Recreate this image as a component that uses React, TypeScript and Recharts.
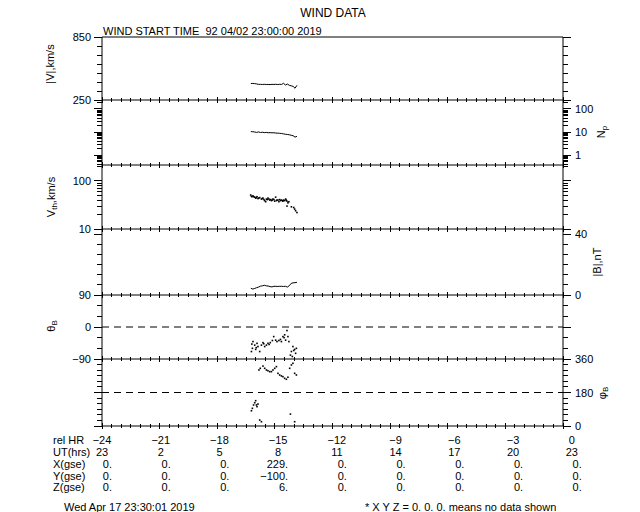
import React from "react";
import { ComposedChart, Line, Scatter, XAxis, YAxis, ReferenceLine } from "recharts";

// bottom table
const relHours = [-24, -21, -18, -15, -12, -9, -6, -3, 0];
const utHours = ["23", "2", "5", "8", "11", "14", "17", "20", "23"];
const xGse = ["0.", "0.", "0.", "229.", "0.", "0.", "0.", "0.", "0."];
const yGse = ["0.", "0.", "0.", "\u2212100.", "0.", "0.", "0.", "0.", "0."];
const zGse = ["0.", "0.", "0.", "6.", "0.", "0.", "0.", "0.", "0."];

// line series, rel hours
const sampleTime = [
  -16.25, -16.15, -16.05, -15.95, -15.85, -15.75, -15.65, -15.55, -15.45, -15.35, -15.25, -15.15, -15.05,
  -14.95, -14.85, -14.75, -14.65, -14.55, -14.45, -14.35, -14.25, -14.15, -14.05, -13.95, -13.85,
];
const speed = [407, 408, 406, 403, 399, 399, 398, 399, 398, 398, 397, 399, 398, 400, 397, 400, 398, 409, 393, 402, 390, 385, 380, 362, 390];
const density = [10.4, 10.3, 10.0, 9.6, 10.1, 9.5, 9.8, 9.4, 9.6, 9.3, 9.4, 9.2, 9.3, 9.0, 8.9, 8.8, 8.6, 8.3, 8.0, 7.8, 7.6, 7.2, 6.9, 6.0, 6.5];
const bMag = [4.4, 3.9, 4.3, 4.8, 5.2, 5.8, 6.0, 6.4, 6.0, 5.9, 5.5, 5.3, 5.7, 5.7, 5.6, 5.7, 5.7, 5.6, 5.7, 5.2, 6.1, 7.6, 8.0, 8.1, 8.3];

// thermal speed points
const vthTime = [
  -16.26, -16.22, -16.19, -16.14, -16.1, -16.05, -16.0, -15.97, -15.93, -15.88, -15.84, -15.79, -15.7,
  -15.66, -15.62, -15.57, -15.53, -15.48, -15.44, -15.4, -15.36, -15.31, -15.27, -15.22, -15.18, -15.14,
  -15.1, -15.05, -15.01, -14.96, -14.92, -14.89, -14.84, -14.79, -14.75, -14.71, -14.66, -14.61, -14.58,
  -14.54, -14.49, -14.44, -14.41, -14.37, -14.37, -14.32, -14.27, -14.14, -14.02, -13.97, -13.92, -13.85,
];
const vthValue = [
  51, 48, 47, 49, 47, 46, 44, 45, 47, 43, 44, 45, 42, 43, 44, 41, 39, 37, 42, 41, 44, 42, 40, 41, 39, 40,
  42, 41, 38, 46, 39, 40, 40, 37, 41, 39, 40, 39, 38, 40, 39, 42, 40, 38, 30, 35, 37, 29, 28, 26, 24, 22,
];

// field direction points
const thetaTime = [
  -16.22, -16.2, -16.17, -16.14, -16.05, -16.0, -15.97, -15.93, -15.88, -15.79, -15.7, -15.62, -15.58, -15.53,
  -15.44, -15.36, -15.3, -15.24, -15.13, -15.06, -14.96, -14.89, -14.79, -14.71, -14.66, -14.58, -14.52, -14.49,
  -14.44, -14.37, -14.32, -14.27, -14.19, -14.14, -14.09, -14.06, -14.02, -13.97, -13.92, -13.88,
];
const thetaValue = [
  -69, -48, -60, -41, -51, -63, -58, -46, -55, -69, -51, -44, -47, -55, -51, -46, -49, -44, -38, -27, -37, -41,
  -38, -35, -41, -27, -30, -22, -37, -10, -27, -41, -79, -69, -83, -55, -66, -63, -74, -60,
];
const phiTime = [
  -16.22, -16.17, -16.11, -16.05, -16.0, -15.96, -15.93, -15.88, -15.83, -15.79, -15.76, -15.7, -15.62, -15.53,
  -15.44, -15.36, -15.27, -15.18, -15.1, -15.01, -14.92, -14.84, -14.75, -14.66, -14.58, -14.49, -14.4, -14.32,
  -14.23, -14.19, -14.14, -14.06, -13.97, -13.97, -13.88,
];
const phiValue = [
  82, 95, 113, 125, 136, 113, 104, 118, 301, 32, 310, 23, 322, 310, 301, 297, 292, 292, 301, 310, 319, 283,
  274, 269, 265, 256, 251, 262, 310, 64, 328, 337, 283, 23, 274,
];

const FONT = "'Liberation Sans', Arial, sans-serif";
const W = 640;
const AXIS_L = 102;
const AXIS_R = 77;
const edges = [37, 100, 165, 229, 295, 359, 426];

const xTicks = Array.from({ length: 49 }, (_, i) => -24 + i * 0.5);

const pairs = (t: number[], v: number[]) => t.map((x, i) => ({ t: x, v: v[i] }));
const speedData = pairs(sampleTime, speed);
const densityData = pairs(sampleTime, density);
const bData = pairs(sampleTime, bMag);
const vthData = pairs(vthTime, vthValue);
const thetaData = pairs(thetaTime, thetaValue);
const phiData = pairs(phiTime, phiValue);

const fmtNum = (v: number) => (v < 0 ? "\u2212" + Math.abs(v) : String(v));
const near = (list: number[], v: number) => list.some((m) => Math.abs(m - v) < 1e-6);

const makeXTick = (table: boolean) => (props: any) => {
  const { x, y, payload } = props;
  const v = payload.value as number;
  const idx = relHours.indexOf(v);
  const len = idx >= 0 ? 3 : 2;
  const cx = x + idx * 1.1;
  return (
    <g>
      <line x1={x} x2={x} y1={y - len} y2={y + len} stroke="#000" shapeRendering="crispEdges" />
      {table && idx >= 0 && (
        <g fontSize={11} fontFamily={FONT} fill="#000">
          <text x={cx} y={y + 18} textAnchor="middle">{fmtNum(v)}</text>
          <text x={cx} y={y + 30} textAnchor="middle">{utHours[idx]}</text>
          <text x={cx + 10} y={y + 42} textAnchor="end">{xGse[idx]}</text>
          <text x={cx + 10} y={y + 54} textAnchor="end">{yGse[idx]}</text>
          <text x={cx + 10} y={y + 65} textAnchor="end">{zGse[idx]}</text>
        </g>
      )}
    </g>
  );
};

const makeYTick = (side: "left" | "right", majors: number[], labels: number[]) => (props: any) => {
  const { x, y, payload } = props;
  const v = payload.value as number;
  const len = near(majors, v) ? 8 : 5;
  const dir = side === "left" ? -1 : 1;
  return (
    <g>
      <line x1={x} x2={x + dir * len} y1={y} y2={y} stroke="#000" shapeRendering="crispEdges" />
      {near(labels, v) && (
        <text
          x={side === "left" ? x - 11 : x + 12}
          y={y + 4}
          textAnchor={side === "left" ? "end" : "start"}
          fontSize={11}
          fontFamily={FONT}
          fill="#000"
        >
          {fmtNum(v)}
        </text>
      )}
    </g>
  );
};

const dotShape = (p: any) => <rect x={p.cx - 0.8} y={p.cy - 0.8} width={1.6} height={1.6} fill="#000" />;

type PanelCfg = {
  domain: [number, number];
  log?: boolean;
  ticks: number[];
  majors: number[];
  leftLabels: number[];
  rightLabels: number[];
};

const logTicks = (lo: number, hi: number) => {
  const out: number[] = [];
  for (let d = lo; d <= hi; d++) {
    for (let m = 1; m <= 9; m++) out.push(+(m * Math.pow(10, d)).toPrecision(3));
  }
  return out;
};

const panels: PanelCfg[] = [
  { domain: [250, 850], ticks: Array.from({ length: 8 }, (_, i) => 250 + (i * 600) / 7), majors: [250, 850], leftLabels: [250, 850], rightLabels: [] },
  { domain: [0.37, 245], log: true, ticks: logTicks(-1, 2).filter((v) => v >= 0.4 && v <= 200), majors: [1, 10, 100], leftLabels: [], rightLabels: [1, 10, 100] },
  { domain: [10, 215], log: true, ticks: logTicks(1, 2).filter((v) => v <= 200), majors: [10, 100], leftLabels: [10, 100], rightLabels: [] },
  { domain: [0, 43.3], ticks: Array.from({ length: 7 }, (_, i) => (i * 40) / 6), majors: [0, 40], leftLabels: [], rightLabels: [0, 40] },
  { domain: [-90, 90], ticks: [-90, -60, -30, 0, 30, 60, 90], majors: [-90, 0, 90], leftLabels: [-90, 0, 90], rightLabels: [] },
  { domain: [0, 360], ticks: Array.from({ length: 13 }, (_, i) => i * 30), majors: [0, 180, 360], leftLabels: [], rightLabels: [0, 180, 360] },
];

const renderPanel = (i: number, items: React.ReactNode[], table = false) => {
  const cfg = panels[i];
  const top = edges[i];
  const padTop = 12;
  const padBottom = table ? 82 : 12;
  const h = edges[i + 1] - top + padTop + padBottom;
  return (
    <div key={i} style={{ position: "absolute", left: 0, top: top - padTop }}>
      <ComposedChart width={W} height={h} margin={{ top: padTop, right: 0, bottom: padBottom - 1, left: 0 }}>
        <XAxis
          dataKey="t"
          type="number"
          domain={[-24, 0]}
          allowDataOverflow
          ticks={xTicks}
          interval={0}
          height={1}
          tickSize={0}
          tickMargin={0}
          tickLine={false}
          axisLine={{ stroke: "#000" }}
          tick={makeXTick(table)}
        />
        {(["l", "r"] as const).map((id) => (
          <YAxis
            key={id}
            yAxisId={id}
            orientation={id === "l" ? "left" : "right"}
            width={id === "l" ? AXIS_L : AXIS_R}
            dataKey="v"
            type="number"
            scale={cfg.log ? "log" : "linear"}
            domain={cfg.domain}
            allowDataOverflow
            ticks={cfg.ticks}
            interval={0}
            tickSize={0}
            tickMargin={0}
            tickLine={false}
            axisLine={{ stroke: "#000" }}
            tick={makeYTick(id === "l" ? "left" : "right", cfg.majors, id === "l" ? cfg.leftLabels : cfg.rightLabels)}
          />
        ))}
        {items}
      </ComposedChart>
    </div>
  );
};

const line = (data: any[]) => (
  <Line key="s" yAxisId="l" data={data} dataKey="v" stroke="#000" strokeWidth={1} dot={false} isAnimationActive={false} />
);
const dots = (data: any[]) => (
  <Scatter key="s" yAxisId="l" data={data} dataKey="v" fill="#000" shape={dotShape} isAnimationActive={false} />
);
const dashed = (y: number) => (
  <ReferenceLine key="d" yAxisId="l" y={y} stroke="#000" strokeDasharray="7 5" />
);

const rotLabel = (cx: number, cy: number, parts: [string, boolean][]) => (
  <text
    x={cx}
    y={cy}
    transform={`rotate(-90 ${cx} ${cy})`}
    textAnchor="middle"
    dominantBaseline="central"
    fontSize={11}
  >
    {parts.map(([s, sub], k) => (
      <tspan key={k} fontSize={sub ? 8 : 11} dy={sub ? 3 : k > 0 && parts[k - 1][1] ? -3 : 0}>
        {s}
      </tspan>
    ))}
  </text>
);

export default function App() {
  return (
    <div style={{ position: "absolute", left: 0, top: 0, width: W, height: 512, background: "#fff", fontFamily: FONT }}>
      {renderPanel(0, [<ReferenceLine key="top" yAxisId="l" y={850} stroke="#000" />, line(speedData)])}
      {renderPanel(1, [line(densityData)])}
      {renderPanel(2, [dots(vthData)])}
      {renderPanel(3, [line(bData)])}
      {renderPanel(4, [dashed(0), dots(thetaData)])}
      {renderPanel(5, [dashed(180), dots(phiData)], true)}
      <svg width={W} height={512} style={{ position: "absolute", left: 0, top: 0, pointerEvents: "none" }} fontFamily={FONT} fill="#000">
        <text x={333} y={17} textAnchor="middle" fontSize={12}>WIND DATA</text>
        <text x={103} y={35} fontSize={11} style={{ whiteSpace: "pre" }}>WIND START TIME  92 04/02 23:00:00 2019</text>
        {rotLabel(50, 64, [["|V|,km/s", false]])}
        {rotLabel(51, 197, [["V", false], ["th", true], [",km/s", false]])}
        {rotLabel(51, 326, [["\u03b8", false], ["B", true]])}
        {rotLabel(601, 132, [["N", false], ["p", true]])}
        {rotLabel(597, 262, [["|B|,nT", false]])}
        {rotLabel(602, 393, [["\u03c6", false], ["B", true]])}
        <g fontSize={11}>
          <text x={53} y={444}>rel HR</text>
          <text x={53} y={456}>UT(hrs)</text>
          <text x={53} y={468}>X(gse)</text>
          <text x={53} y={480}>Y(gse)</text>
          <text x={53} y={491}>Z(gse)</text>
          <text x={64} y={511}>Wed Apr 17 23:30:01 2019</text>
          <text x={365} y={511} style={{ whiteSpace: "pre" }}>* X Y Z = 0. 0. 0. means no data shown</text>
        </g>
      </svg>
    </div>
  );
}
